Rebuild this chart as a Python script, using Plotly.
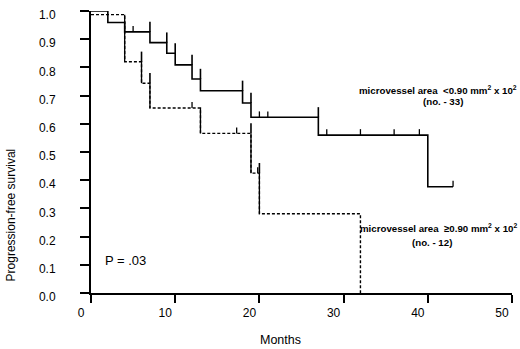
import plotly.graph_objects as go

# ---------------- data ----------------
month_ticks = [0, 10, 20, 30, 40, 50]
surv_ticks = [0.0, 0.1, 0.2, 0.3, 0.4, 0.5, 0.6, 0.7, 0.8, 0.9, 1.0]
surv_tick_labels = ["0.0", "0.1", "0.2", "0.3", "0.4", "0.5", "0.6", "0.7", "0.8", "0.9", "1.0"]

# microvessel area < 0.90 (n = 33), solid line
low_start = 1.0
low_event_months = [2, 4, 7, 9, 10, 12, 13, 18, 19, 27, 40]
low_levels = [0.959, 0.926, 0.888, 0.850, 0.809, 0.759, 0.717, 0.674, 0.623, 0.560, 0.377]
low_last_month = 43
low_censored = [5, 20, 21, 28, 32, 36, 39, 43]
low_event_marks = [7, 9, 10, 12, 13, 18, 19, 27]

# microvessel area >= 0.90 (n = 12), dashed line
high_start = 0.987
high_event_months = [4, 6, 7, 13, 19, 20, 32]
high_levels = [0.820, 0.744, 0.656, 0.566, 0.425, 0.281, 0.0]
high_last_month = 32
high_censored = [12, 17.3, 19.8]
high_event_marks = [6, 7, 19, 20]

p_value_text = "P = .03"


# ---------------- helpers ----------------
def level_at(t, start, events, levels, strict=False):
    s = start
    for e, lv in zip(events, levels):
        if (e < t) if strict else (e <= t):
            s = lv
    return s


def step_xy(start, events, levels, last):
    xs = [0] + list(events)
    ys = [start] + list(levels)
    if last > events[-1]:
        xs.append(last)
        ys.append(levels[-1])
    return xs, ys


FONT = "Liberation Sans, Arial, sans-serif"
fig = go.Figure()

for start, events, levels, last, dash, width in [
    (low_start, low_event_months, low_levels, low_last_month, "solid", 1.6),
    (high_start, high_event_months, high_levels, high_last_month, "3px,2px", 1.4),
]:
    xs, ys = step_xy(start, events, levels, last)
    fig.add_trace(go.Scatter(
        x=xs, y=ys, mode="lines", line=dict(color="black", width=width, dash=dash, shape="hv"),
        cliponaxis=False, hoverinfo="skip"))

# the dashed curve's drops (except the final one) are drawn as solid verticals
vx, vy = [], []
prev = high_start
for e, lv in zip(high_event_months[:-1], high_levels[:-1]):
    vx += [e, e, None]
    vy += [prev, lv, None]
    prev = lv
fig.add_trace(go.Scatter(x=vx, y=vy, mode="lines", line=dict(color="black", width=1.3),
                         cliponaxis=False, hoverinfo="skip"))

# censor ticks (short upward marks)
for start, events, levels, cens in [
    (low_start, low_event_months, low_levels, low_censored),
    (high_start, high_event_months, high_levels, high_censored),
]:
    fig.add_trace(go.Scatter(
        x=cens, y=[level_at(t, start, events, levels) for t in cens], mode="markers",
        marker=dict(size=1, color="rgba(0,0,0,0)"),
        error_y=dict(type="constant", value=0.021, valueminus=0, symmetric=False,
                     width=0, thickness=1.3, color="black"),
        cliponaxis=False, hoverinfo="skip"))

# event verticals extending above the previous level
for start, events, levels, marks in [
    (low_start, low_event_months, low_levels, low_event_marks),
    (high_start, high_event_months, high_levels, high_event_marks),
]:
    fig.add_trace(go.Scatter(
        x=marks, y=[level_at(t, start, events, levels, strict=True) for t in marks], mode="markers",
        marker=dict(size=1, color="rgba(0,0,0,0)"),
        error_y=dict(type="constant", value=0.036, valueminus=0, symmetric=False,
                     width=0, thickness=1.6, color="black"),
        cliponaxis=False, hoverinfo="skip"))

ann_font = dict(family=FONT, size=9.7, color="black", weight="bold")
annotations = [
    dict(x=41.25, y=0.720, xref="x", yref="y",
         text="microvessel area &nbsp;&lt;0.90 mm<sup>2</sup> x 10<sup>2</sup>",
         showarrow=False, font=ann_font, xanchor="center", yanchor="middle"),
    dict(x=41.8, y=0.680, xref="x", yref="y", text="(no. - 33)",
         showarrow=False, font=ann_font, xanchor="center", yanchor="middle"),
    dict(x=41.27, y=0.232, xref="x", yref="y",
         text="microvessel area &nbsp;\u22650.90 mm<sup>2</sup> x 10<sup>2</sup>",
         showarrow=False, font=ann_font, xanchor="center", yanchor="middle"),
    dict(x=40.5, y=0.180, xref="x", yref="y", text="(no. - 12)",
         showarrow=False, font=ann_font, xanchor="center", yanchor="middle"),
    dict(x=1.46, y=0.116, xref="x", yref="y", text=p_value_text,
         showarrow=False, font=dict(family=FONT, size=13, color="black"),
         xanchor="left", yanchor="middle"),
    dict(x=-0.19, y=0.275, xref="paper", yref="paper", text="Progression-free survival",
         textangle=-90, showarrow=False, font=dict(family=FONT, size=12, color="black"),
         xanchor="center", yanchor="middle"),
    dict(x=0.451, y=-0.168, xref="paper", yref="paper", text="Months",
         showarrow=False, font=dict(family=FONT, size=12.5, color="black"),
         xanchor="center", yanchor="middle"),
]

fig.update_layout(
    width=520, height=349,
    margin=dict(l=91, r=8, t=9, b=56),
    paper_bgcolor="white", plot_bgcolor="white",
    showlegend=False,
    annotations=annotations,
    xaxis=dict(range=[0, 50], tickvals=month_ticks, ticktext=[str(m) for m in month_ticks],
               showline=True, linecolor="black", linewidth=2, ticks="outside", ticklen=8,
               tickwidth=2, tickcolor="black", showgrid=False, zeroline=False,
               ticklabelshift=-10, tickfont=dict(family=FONT, size=12, color="black")),
    yaxis=dict(range=[0, 1.0], tickvals=surv_ticks, ticktext=surv_tick_labels,
               showline=True, linecolor="black", linewidth=2, ticks="outside", ticklen=9,
               tickwidth=2, tickcolor="black", showgrid=False, zeroline=False,
               ticklabelshift=4, ticklabelstandoff=22,
               tickfont=dict(family=FONT, size=12, color="black")),
)

fig.write_html(
    "out.html",
    config={"displayModeBar": False},
    post_script="document.body.style.margin='0px';document.body.style.padding='0px';"
                "document.body.style.overflow='hidden';",
)
